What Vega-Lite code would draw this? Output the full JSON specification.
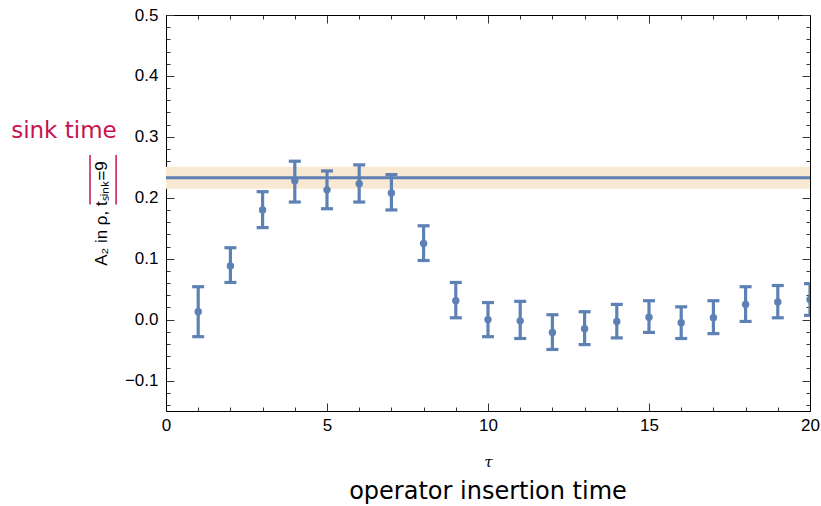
{
  "$schema": "https://vega.github.io/schema/vega-lite/v6.json",
  "width": 644,
  "height": 396,
  "autosize": {"type": "none"},
  "padding": {"left": 166, "top": 15, "right": 11, "bottom": 95},
  "background": "white",
  "config": {
    "view": {"stroke": null},
    "axis": {
      "grid": false,
      "domainColor": "black",
      "tickColor": "#333333",
      "labelColor": "black",
      "labelFont": "Liberation Sans",
      "labelFontSize": 17,
      "titleFont": "Liberation Sans",
      "titleFontWeight": "normal",
      "titleColor": "black",
      "labelOverlap": false,
      "labelFlush": false
    }
  },
  "title": {
    "text": "operator insertion time",
    "orient": "bottom",
    "anchor": "middle",
    "font": "DejaVu Sans",
    "fontSize": 24,
    "fontWeight": "normal",
    "color": "black",
    "offset": 11
  },
  "datasets": {
    "points": [
      {"tau": 1, "a": 0.013, "lo": -0.028, "hi": 0.054},
      {"tau": 2, "a": 0.088, "lo": 0.061, "hi": 0.118},
      {"tau": 3, "a": 0.180, "lo": 0.151, "hi": 0.210},
      {"tau": 4, "a": 0.228, "lo": 0.193, "hi": 0.260},
      {"tau": 5, "a": 0.213, "lo": 0.182, "hi": 0.244},
      {"tau": 6, "a": 0.223, "lo": 0.193, "hi": 0.254},
      {"tau": 7, "a": 0.208, "lo": 0.180, "hi": 0.238},
      {"tau": 8, "a": 0.125, "lo": 0.097, "hi": 0.154},
      {"tau": 9, "a": 0.031, "lo": 0.003, "hi": 0.061},
      {"tau": 10, "a": 0.000, "lo": -0.028, "hi": 0.028},
      {"tau": 11, "a": -0.002, "lo": -0.031, "hi": 0.030},
      {"tau": 12, "a": -0.021, "lo": -0.049, "hi": 0.008},
      {"tau": 13, "a": -0.015, "lo": -0.041, "hi": 0.013},
      {"tau": 14, "a": -0.003, "lo": -0.030, "hi": 0.025},
      {"tau": 15, "a": 0.004, "lo": -0.021, "hi": 0.031},
      {"tau": 16, "a": -0.005, "lo": -0.031, "hi": 0.021},
      {"tau": 17, "a": 0.003, "lo": -0.023, "hi": 0.031},
      {"tau": 18, "a": 0.025, "lo": -0.003, "hi": 0.054},
      {"tau": 19, "a": 0.029, "lo": 0.003, "hi": 0.056},
      {"tau": 20, "a": 0.033, "lo": 0.007, "hi": 0.059}
    ],
    "fit": [
      {"xmin": 0, "xmax": 20, "v": 0.233, "lo": 0.215, "hi": 0.251}
    ],
    "notes": [
      {"label": "sink time", "nx": -3.17, "ny": 0.31}
    ]
  },
  "resolve": {"axis": {"x": "independent", "y": "independent"}},
  "layer": [
    {
      "data": {"name": "fit"},
      "mark": {"type": "rect", "color": "#F9E8D2"},
      "encoding": {
        "x": {
          "field": "xmin", "type": "quantitative",
          "scale": {"domain": [0, 20], "nice": false, "zero": false},
          "axis": {
            "orient": "bottom",
            "values": [0,1,2,3,4,5,6,7,8,9,10,11,12,13,14,15,16,17,18,19,20],
            "labelExpr": "datum.value % 5 == 0 ? datum.label : ''",
            "tickSize": {"condition": {"test": "datum.value % 5 == 0", "value": -8}, "value": -4},
            "labelPadding": 14,
            "title": "τ",
            "titleFont": "DejaVu Serif",
            "titleFontStyle": "italic",
            "titleFontSize": 15,
            "titlePadding": 17
          }
        },
        "x2": {"field": "xmax"},
        "y": {
          "field": "lo", "type": "quantitative",
          "scale": {"domain": [-0.15, 0.5], "nice": false, "zero": false},
          "axis": {
            "orient": "left",
            "values": [-0.14,-0.12,-0.1,-0.08,-0.06,-0.04,-0.02,0,0.02,0.04,0.06,0.08,0.1,0.12,0.14,0.16,0.18,0.2,0.22,0.24,0.26,0.28,0.3,0.32,0.34,0.36,0.38,0.4,0.42,0.44,0.46,0.48,0.5],
            "labelExpr": "abs(datum.value*10 - round(datum.value*10)) < 0.001 ? format(datum.value, '.1f') : ''",
            "tickSize": {"condition": {"test": "abs(datum.value*10 - round(datum.value*10)) < 0.001", "value": -8}, "value": -4},
            "labelPadding": 16,
            "title": "A₂ in ρ, tₛᵢₙₖ=9",
            "titleFontSize": 17,
            "titlePadding": 14
          }
        },
        "y2": {"field": "hi"}
      }
    },
    {
      "data": {"name": "fit"},
      "mark": {"type": "rule", "color": "#5E81B5", "strokeWidth": 3},
      "encoding": {
        "x": {
          "field": "xmin", "type": "quantitative",
          "axis": {
            "orient": "top",
            "values": [0,1,2,3,4,5,6,7,8,9,10,11,12,13,14,15,16,17,18,19,20],
            "labels": false,
            "tickSize": {"condition": {"test": "datum.value % 5 == 0", "value": -8}, "value": -4},
            "title": null
          }
        },
        "x2": {"field": "xmax"},
        "y": {
          "field": "v", "type": "quantitative",
          "axis": {
            "orient": "right",
            "values": [-0.14,-0.12,-0.1,-0.08,-0.06,-0.04,-0.02,0,0.02,0.04,0.06,0.08,0.1,0.12,0.14,0.16,0.18,0.2,0.22,0.24,0.26,0.28,0.3,0.32,0.34,0.36,0.38,0.4,0.42,0.44,0.46,0.48,0.5],
            "labels": false,
            "tickSize": {"condition": {"test": "abs(datum.value*10 - round(datum.value*10)) < 0.001", "value": -8}, "value": -4},
            "title": null
          }
        }
      }
    },
    {
      "mark": {"type": "rule", "color": "#222222", "strokeWidth": 1},
      "encoding": {"y": {"datum": 0, "type": "quantitative", "axis": null}}
    },
    {
      "data": {"name": "points"},
      "mark": {"type": "rule", "color": "#5E81B5", "strokeWidth": 3.2, "clip": true},
      "encoding": {
        "x": {"field": "tau", "type": "quantitative", "axis": null},
        "y": {"field": "lo", "type": "quantitative", "axis": null},
        "y2": {"field": "hi"}
      }
    },
    {
      "data": {"name": "points"},
      "mark": {"type": "tick", "orient": "horizontal", "color": "#5E81B5", "thickness": 3.2, "size": 12, "opacity": 1, "clip": true},
      "encoding": {
        "x": {"field": "tau", "type": "quantitative", "axis": null},
        "y": {"field": "lo", "type": "quantitative", "axis": null}
      }
    },
    {
      "data": {"name": "points"},
      "mark": {"type": "tick", "orient": "horizontal", "color": "#5E81B5", "thickness": 3.2, "size": 12, "opacity": 1, "clip": true},
      "encoding": {
        "x": {"field": "tau", "type": "quantitative", "axis": null},
        "y": {"field": "hi", "type": "quantitative", "axis": null}
      }
    },
    {
      "data": {"name": "points"},
      "mark": {"type": "circle", "color": "#5E81B5", "size": 55, "opacity": 1, "clip": true},
      "encoding": {
        "x": {"field": "tau", "type": "quantitative", "axis": null},
        "y": {"field": "a", "type": "quantitative", "axis": null}
      }
    },
    {
      "data": {"name": "notes"},
      "mark": {"type": "text", "font": "DejaVu Sans", "fontSize": 23, "color": "#C8124F", "align": "center", "baseline": "middle", "clip": false},
      "encoding": {
        "text": {"field": "label"},
        "x": {"field": "nx", "type": "quantitative", "axis": null},
        "y": {"field": "ny", "type": "quantitative", "axis": null}
      }
    },
    {
      "data": {"values": [{"px": -2.36}, {"px": -1.55}]},
      "mark": {"type": "rule", "color": "#C8124F", "strokeWidth": 1.5},
      "encoding": {
        "x": {"field": "px", "type": "quantitative", "axis": null},
        "y": {"datum": 0.189, "type": "quantitative", "axis": null},
        "y2": {"datum": 0.27}
      }
    }
  ]
}
